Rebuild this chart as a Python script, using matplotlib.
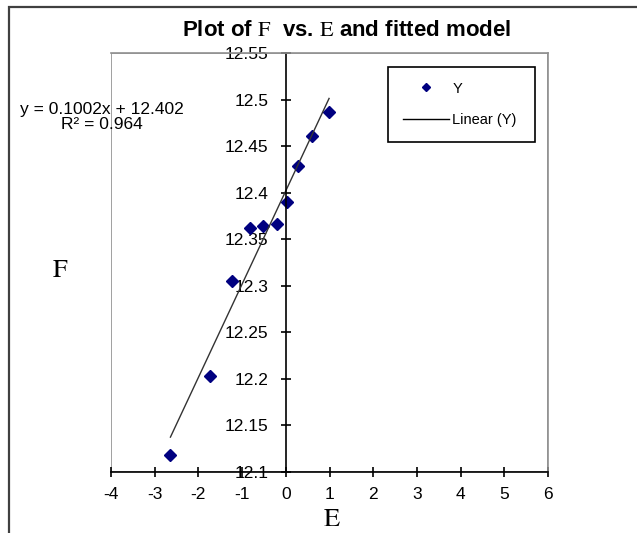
import matplotlib
matplotlib.use('Agg')
import matplotlib.pyplot as plt
from matplotlib.lines import Line2D
from matplotlib.patches import Rectangle

plt.rcParams['font.family'] = ['Liberation Sans', 'DejaVu Sans']
plt.rcParams['mathtext.fontset'] = 'stix'

# measured points (E, F)
E = [-2.64, -1.73, -1.22, -0.83, -0.52, -0.20, 0.03, 0.29, 0.61, 0.99]
F = [12.118, 12.203, 12.305, 12.362, 12.364, 12.366, 12.390, 12.429, 12.461, 12.487]

# linear trendline as reported
slope = 0.1002
intercept = 12.402
r_squared = 0.964

x_ticks = [-4, -3, -2, -1, 0, 1, 2, 3, 4, 5, 6]
y_ticks = [12.1, 12.15, 12.2, 12.25, 12.3, 12.35, 12.4, 12.45, 12.5, 12.55]
y_tick_labels = ['12.1', '12.15', '12.2', '12.25', '12.3', '12.35', '12.4', '12.45', '12.5', '12.55']

W, H = 637, 533
fig = plt.figure(figsize=(W / 100, H / 100), dpi=100)
ax = fig.add_axes([111 / W, 1 - 472 / H, (548 - 111) / W, (472 - 53) / H])

# outer chart frame (runs off the picture at right and bottom)
fig.patches.append(Rectangle((9 / W, -0.1), 1.2, 1 - 7 / H + 0.1, transform=fig.transFigure,
                             fill=False, edgecolor='#404040', linewidth=1.6))

ax.plot(E, F, linestyle='none', marker='D', markersize=6.5, color='#000080')
x_fit = [min(E), max(E)]
y_fit = [slope * v + intercept for v in x_fit]
ax.plot(x_fit, y_fit, color='#333333', linewidth=1.0)

ax.set_xlim(-4, 6)
ax.set_ylim(12.1, 12.55)
ax.set_xticks(x_ticks)
ax.set_xticklabels([str(v) for v in x_ticks])
ax.set_yticks(y_ticks)
ax.set_yticklabels(y_tick_labels)

# plot-area border in grey, axes in black crossing at x=0
ax.spines['left'].set_position(('data', 0))
ax.spines['left'].set_color('black')
ax.spines['bottom'].set_color('black')
ax.spines['top'].set_color('#909090')
ax.spines['right'].set_color('#909090')
ax.add_patch(Rectangle((0, 0), 1, 1, transform=ax.transAxes, fill=False,
                       edgecolor='#909090', linewidth=1.2, zorder=0))
for s in ax.spines.values():
    s.set_linewidth(1.2)
ax.tick_params(direction='inout', length=7, width=1.2, labelsize=12.5, colors='black')
ax.tick_params(axis='y', pad=9)
ax.tick_params(axis='x', pad=7)

fig.text(347 / W, 1 - 30 / H, r'Plot of $\mathrm{F}$  vs. $\mathrm{E}$ and fitted model',
         ha='center', va='center', fontsize=16, fontweight='bold',
         family=['Liberation Sans Narrow', 'Liberation Sans'])
fig.text(60 / W, 1 - 270 / H, r'$\mathrm{F}$', ha='center', va='center', fontsize=19)
fig.text(332 / W, 1 - 519 / H, r'$\mathrm{E}$', ha='center', va='center', fontsize=19)
fig.text(102 / W, 1 - 117 / H, 'y = 0.1002x + 12.402\nR² = 0.964',
         ha='center', va='center', multialignment='center', fontsize=12.5, linespacing=1.0)

handles = [Line2D([], [], linestyle='none', marker='D', markersize=4, color='#000080'),
           Line2D([], [], color='black', linewidth=1.0)]
leg = fig.legend(handles, ['Y', 'Linear (Y)'], loc='upper left',
                 bbox_to_anchor=(388 / W, 1 - 67 / H, (535 - 388) / W, 0), mode='expand',
                 bbox_transform=fig.transFigure, fancybox=False, framealpha=1, borderaxespad=0,
                 edgecolor='black', handlelength=3.2, labelspacing=1.2, borderpad=1.0,
                 handletextpad=0.2, prop={'family': ['Liberation Sans Narrow', 'Liberation Sans'], 'size': 10.5})
leg.get_frame().set_linewidth(1.2)

plt.savefig('out.png', dpi=100)
